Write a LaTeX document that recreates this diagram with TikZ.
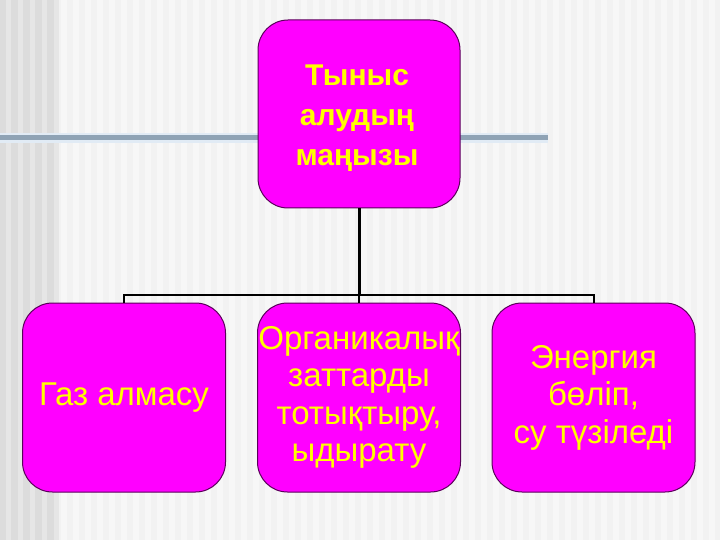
\documentclass[tikz,border=0pt]{standalone}
\usepackage{fontspec}
\setmainfont{Liberation Sans}
\definecolor{bgmain}{RGB}{242,242,242}
\definecolor{bgstripe}{RGB}{247,247,247}
\definecolor{bgleft}{RGB}{220,220,220}
\definecolor{bgleftstripe}{RGB}{230,230,230}
\definecolor{rulecol}{RGB}{143,163,181}
\definecolor{ruleedge}{RGB}{225,235,245}
\definecolor{boxfill}{RGB}{255,0,255}
\definecolor{boxline}{RGB}{90,0,90}
\definecolor{txtcol}{RGB}{255,255,0}
\tikzset{
  mbox/.style={draw=boxline, line width=1pt, fill=boxfill, rounded corners=30pt,
    minimum width=203pt, minimum height=189pt, inner sep=0pt, align=center,
    text=txtcol, font=\fontsize{33}{37.5}\selectfont},
  topbox/.style={mbox, minimum width=202pt, minimum height=188pt,
    font=\fontsize{30}{40}\selectfont\bfseries},
  conn/.style={draw=black, line width=2pt},
}
\begin{document}
\begin{tikzpicture}[x=1pt,y=-1pt]
\useasboundingbox (0,0) rectangle (720,540);
% background
\fill[bgmain] (0,0) rectangle (720,540);
\foreach \i in {0,...,59} {
  \fill[bgstripe] ({55+\i*12+6},0) rectangle ({55+\i*12+12},540);
}
\fill[bgleft] (0,0) rectangle (55,540);
\foreach \i in {0,...,4} {
  \fill[bgleftstripe] ({\i*12+6},0) rectangle ({\i*12+11},540);
}
\fill[ruleedge] (0,133) rectangle (548,143);
\fill[rulecol] (0,135.5) rectangle (548,140.5);
% boxes
\node[topbox] (top) at (359,114) {};
\node[text=txtcol, font=\fontsize{30}{40}\selectfont\bfseries, align=center, inner sep=0pt]
  (toptext) at (357,118) {Тыныс\\алудың\\маңызы};
\node[mbox] (left) at (124,397.5) {Газ алмасу};
\node[mbox] (mid) at (359,397.5) {Органикалық\\заттарды\\тотықтыру,\\ыдырату};
\node[mbox] (right) at (593.5,397.5) {Энергия\\бөліп,\\су түзіледі};
% connectors
\coordinate (hub) at (top.south |- 0,294.5);
\draw[line width=3pt] (top.south) -- (hub);
\draw[conn] (left.north) -- (left.north |- hub) -- (right.north |- hub) -- (right.north);
\draw[conn] (mid.north) -- (hub);
\end{tikzpicture}
\end{document}
